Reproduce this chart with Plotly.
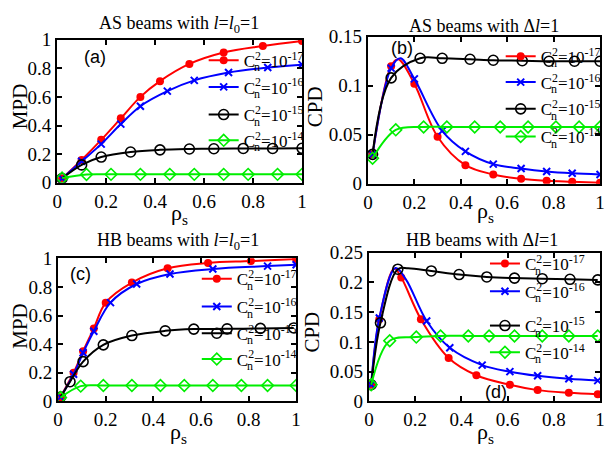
import plotly.graph_objects as go

W, H = 607, 464

# ---------------- data ----------------
series_names = ["C<sup>2</sup>=10<sup>-17</sup>", "C<sup>2</sup>=10<sup>-16</sup>",
                "C<sup>2</sup>=10<sup>-15</sup>", "C<sup>2</sup>=10<sup>-14</sup>"]

# Panel (a): MPD, AS beams, l = l0 = 1
a_x_m17 = [0.02, 0.10, 0.18, 0.26, 0.34, 0.42, 0.54, 0.68, 0.84, 1.00]
a_y_m17 = [0.03, 0.16, 0.30, 0.45, 0.60, 0.71, 0.83, 0.91, 0.955, 0.99]
a_x_m16 = [0.02, 0.10, 0.18, 0.26, 0.34, 0.45, 0.56, 0.70, 0.86, 1.00]
a_y_m16 = [0.03, 0.15, 0.27, 0.41, 0.535, 0.64, 0.715, 0.77, 0.805, 0.825]
a_x_m15 = [0.02, 0.10, 0.18, 0.30, 0.42, 0.54, 0.64, 0.76, 0.88, 1.00]
a_y_m15 = [0.03, 0.125, 0.18, 0.215, 0.23, 0.236, 0.238, 0.24, 0.24, 0.241]
a_x_m14 = [0.02, 0.12, 0.22, 0.34, 0.46, 0.56, 0.68, 0.78, 0.90, 1.00]
a_y_m14 = [0.033, 0.058, 0.059, 0.059, 0.059, 0.059, 0.059, 0.059, 0.059, 0.059]

# Panel (b): CPD, AS beams, delta l = 1
b_x_m17 = [0.02, 0.10, 0.20, 0.30, 0.42, 0.54, 0.66, 0.77, 0.88, 1.00]
b_y_m17 = [0.030, 0.120, 0.102, 0.048, 0.019, 0.0095, 0.005, 0.003, 0.002, 0.001]
b_xpk_m17 = [0.13]
b_ypk_m17 = [0.127]
b_x_m16 = [0.02, 0.10, 0.20, 0.32, 0.42, 0.54, 0.66, 0.77, 0.88, 1.00]
b_y_m16 = [0.030, 0.118, 0.107, 0.054, 0.033, 0.020, 0.0155, 0.0125, 0.0107, 0.0095]
b_xpk_m16 = [0.14]
b_ypk_m16 = [0.128]
b_x_m15 = [0.02, 0.10, 0.225, 0.32, 0.44, 0.54, 0.665, 0.78, 0.89, 1.00]
b_y_m15 = [0.030, 0.108, 0.128, 0.128, 0.127, 0.126, 0.1255, 0.125, 0.125, 0.125]
b_x_m14 = [0.02, 0.12, 0.24, 0.34, 0.46, 0.57, 0.69, 0.81, 0.91, 1.00]
b_y_m14 = [0.026, 0.055, 0.058, 0.058, 0.058, 0.058, 0.058, 0.058, 0.058, 0.058]

# Panel (c): MPD, HB beams, l = l0 = 1
c_x_m17 = [0.01, 0.065, 0.105, 0.15, 0.20, 0.31, 0.46, 0.63, 0.81, 1.00]
c_y_m17 = [0.03, 0.20, 0.35, 0.51, 0.69, 0.83, 0.93, 0.967, 0.98, 0.995]
c_x_m16 = [0.01, 0.065, 0.105, 0.15, 0.22, 0.33, 0.47, 0.65, 0.88, 1.00]
c_y_m16 = [0.03, 0.19, 0.34, 0.49, 0.69, 0.82, 0.89, 0.925, 0.945, 0.955]
c_x_m15 = [0.01, 0.05, 0.105, 0.19, 0.31, 0.45, 0.57, 0.71, 0.85, 0.99]
c_y_m15 = [0.03, 0.138, 0.278, 0.395, 0.46, 0.493, 0.505, 0.507, 0.51, 0.513]
c_x_m14 = [0.01, 0.095, 0.19, 0.31, 0.43, 0.53, 0.65, 0.77, 0.88, 1.00]
c_y_m14 = [0.027, 0.107, 0.111, 0.111, 0.111, 0.111, 0.111, 0.111, 0.111, 0.111]

# Panel (d): CPD, HB beams, delta l = 1
d_x_m17 = [0.01, 0.045, 0.14, 0.225, 0.345, 0.465, 0.61, 0.73, 0.865, 0.99]
d_y_m17 = [0.028, 0.138, 0.208, 0.138, 0.073, 0.044, 0.028, 0.019, 0.0145, 0.012]
d_xpk_m17 = [0.11]
d_ypk_m17 = [0.223]
d_x_m16 = [0.01, 0.045, 0.25, 0.35, 0.49, 0.61, 0.73, 0.865, 0.99]
d_y_m16 = [0.028, 0.140, 0.135, 0.090, 0.061, 0.050, 0.043, 0.038, 0.035]
d_xpk_m16 = [0.115, 0.16]
d_ypk_m16 = [0.224, 0.205]
d_x_m15 = [0.01, 0.05, 0.125, 0.27, 0.39, 0.51, 0.63, 0.75, 0.87, 0.99]
d_y_m15 = [0.028, 0.132, 0.222, 0.219, 0.213, 0.209, 0.207, 0.206, 0.205, 0.204]
d_xpk_m15 = [0.17]
d_ypk_m15 = [0.2235]
d_x_m14 = [0.01, 0.09, 0.205, 0.31, 0.43, 0.52, 0.63, 0.75, 0.865, 0.99]
d_y_m14 = [0.028, 0.102, 0.108, 0.110, 0.110, 0.110, 0.110, 0.110, 0.110, 0.110]

x_ticks = [0, 0.2, 0.4, 0.6, 0.8, 1]
mpd_ticks = [0, 0.2, 0.4, 0.6, 0.8, 1]
b_ticks = [0, 0.05, 0.1, 0.15]
d_ticks = [0, 0.05, 0.1, 0.15, 0.2, 0.25]

titles = ["AS beams with <i>l</i>=<i>l</i><sub>0</sub>=1", "AS beams with \u0394<i>l</i>=1",
          "HB beams with <i>l</i>=<i>l</i><sub>0</sub>=1", "HB beams with \u0394<i>l</i>=1"]

# ---------------- styling ----------------
SERIF = "Liberation Serif, Times New Roman, serif"
SANS = "Liberation Sans, Arial, sans-serif"
styles = [
    dict(color="#ff0000", symbol="circle", size=8, lw=0),
    dict(color="#0000ff", symbol="x-thin", size=7, lw=2),
    dict(color="#000000", symbol="circle-open", size=10, lw=1.6),
    dict(color="#00ee00", symbol="diamond-open", size=9, lw=1.6),
]

def pxx(p):
    return p / W

def pxy(p):
    return 1 - p / H

panels = [
    dict(ax="", dom_x=(53, 302), dom_y=(31, 181), yr=[0, 1], yt=mpd_ticks, ylab="MPD",
         series=[(a_x_m17, a_y_m17, [], []), (a_x_m16, a_y_m16, [], []),
                 (a_x_m15, a_y_m15, [], []), (a_x_m14, a_y_m14, [], [])],
         title_pos=(177, 15), ylab_pos=(16, 101), xlab_pos=(177, 214),
         letter="(a)", letter_pos=(91, 49), leg_L=202, leg_c=[50, 78, 107, 134]),
    dict(ax="2", dom_x=(369, 605), dom_y=(28, 182), yr=[0, 0.15], yt=b_ticks, ylab="CPD",
         series=[(b_x_m17, b_y_m17, b_xpk_m17, b_ypk_m17), (b_x_m16, b_y_m16, b_xpk_m16, b_ypk_m16),
                 (b_x_m15, b_y_m15, [], []), (b_x_m14, b_y_m14, [], [])],
         title_pos=(487, 17), ylab_pos=(316, 101), xlab_pos=(489, 212),
         letter="(b)", letter_pos=(404, 40), leg_L=504, leg_c=[46, 73, 101, 130]),
    dict(ax="3", dom_x=(54, 296), dom_y=(260, 410), yr=[0, 1], yt=mpd_ticks, ylab="MPD",
         series=[(c_x_m17, c_y_m17, [], []), (c_x_m16, c_y_m16, [], []),
                 (c_x_m15, c_y_m15, [], []), (c_x_m14, c_y_m14, [], [])],
         title_pos=(176, 242), ylab_pos=(15, 331), xlab_pos=(176, 443),
         letter="(c)", letter_pos=(77, 277), leg_L=195, leg_c=[279, 308, 336, 363]),
    dict(ax="4", dom_x=(370, 605), dom_y=(254, 410), yr=[0, 0.25], yt=d_ticks, ylab="CPD",
         series=[(d_x_m17, d_y_m17, d_xpk_m17, d_ypk_m17), (d_x_m16, d_y_m16, d_xpk_m16, d_ypk_m16),
                 (d_x_m15, d_y_m15, d_xpk_m15, d_ypk_m15), (d_x_m14, d_y_m14, [], [])],
         title_pos=(485, 241), ylab_pos=(312, 337), xlab_pos=(489, 443),
         letter="(d)", letter_pos=(499, 400), leg_L=488, leg_c=[263, 292, 328, 356]),
]

fig = go.Figure()
annotations = []
layout = {}
leg_idx = 0

for pi, p in enumerate(panels):
    xa, ya = "x" + p["ax"], "y" + p["ax"]
    for si, (xs, ys, xe, ye) in enumerate(p["series"]):
        st = styles[si]
        pts = sorted(zip(list(xs) + list(xe), list(ys) + list(ye)))
        fig.add_trace(go.Scatter(
            x=[q[0] for q in pts], y=[q[1] for q in pts], mode="lines",
            line=dict(color=st["color"], width=2, shape="spline", smoothing=1.0),
            xaxis=xa, yaxis=ya, showlegend=False, hoverinfo="skip"))
        mk = dict(color=st["color"], symbol=st["symbol"], size=st["size"],
                  line=dict(color=st["color"], width=st["lw"]))
        fig.add_trace(go.Scatter(x=xs, y=ys, mode="markers", marker=mk,
                                 xaxis=xa, yaxis=ya, showlegend=False))
        leg_idx += 1
        lname = "legend" if leg_idx == 1 else "legend%d" % leg_idx
        fig.add_trace(go.Scatter(x=[None], y=[None], mode="lines+markers",
                                 name=series_names[si], marker=mk,
                                 line=dict(color=st["color"], width=2),
                                 xaxis=xa, yaxis=ya, legend=lname, showlegend=True))
        cy = p["leg_c"][si] + 3
        layout[lname] = dict(x=pxx(p["leg_L"]), y=pxy(cy), xanchor="left", yanchor="middle",
                             bgcolor="rgba(0,0,0,0)", borderwidth=0,
                             font=dict(family=SERIF, size=17, color="black"))
        annotations.append(dict(text="n", x=pxx(p["leg_L"] + 54), y=pxy(cy + 7),
                                xref="paper", yref="paper", showarrow=False,
                                xanchor="center", yanchor="middle",
                                font=dict(family=SERIF, size=12, color="black")))

    axis_common = dict(showgrid=False, zeroline=False, showline=True, linecolor="black",
                       linewidth=2, mirror="ticks", ticks="inside", ticklen=5, tickwidth=1.5,
                       tickcolor="black", tickfont=dict(family=SERIF, size=19, color="black"))
    layout["xaxis" + p["ax"]] = dict(axis_common, domain=[pxx(p["dom_x"][0]), pxx(p["dom_x"][1])],
                                     range=[0, 1], tickvals=x_ticks, anchor=ya)
    layout["yaxis" + p["ax"]] = dict(axis_common, domain=[pxy(p["dom_y"][1]), pxy(p["dom_y"][0])],
                                     range=p["yr"], tickvals=p["yt"], anchor=xa)

    annotations.append(dict(text=titles[pi], x=pxx(p["title_pos"][0]), y=pxy(p["title_pos"][1]),
                            xref="paper", yref="paper", showarrow=False,
                            xanchor="center", yanchor="middle",
                            font=dict(family=SERIF, size=18, color="black")))
    annotations.append(dict(text=p["ylab"], x=pxx(p["ylab_pos"][0]), y=pxy(p["ylab_pos"][1]),
                            xref="paper", yref="paper", showarrow=False, textangle=-90,
                            xanchor="center", yanchor="middle",
                            font=dict(family=SERIF, size=21, color="black")))
    annotations.append(dict(text="\u03c1<sub>s</sub>", x=pxx(p["xlab_pos"][0]), y=pxy(p["xlab_pos"][1]),
                            xref="paper", yref="paper", showarrow=False,
                            xanchor="center", yanchor="middle",
                            font=dict(family=SERIF, size=22, color="black")))
    annotations.append(dict(text=p["letter"], x=pxx(p["letter_pos"][0]), y=pxy(p["letter_pos"][1]),
                            xref="paper", yref="paper", showarrow=False,
                            xanchor="center", yanchor="middle",
                            font=dict(family=SANS, size=18, color="black")))

fig.update_layout(width=W, height=H, margin=dict(l=0, r=0, t=0, b=0),
                  paper_bgcolor="white", plot_bgcolor="white",
                  font=dict(family=SERIF, color="black"),
                  annotations=annotations, **layout)

fig.write_html("out.html")
